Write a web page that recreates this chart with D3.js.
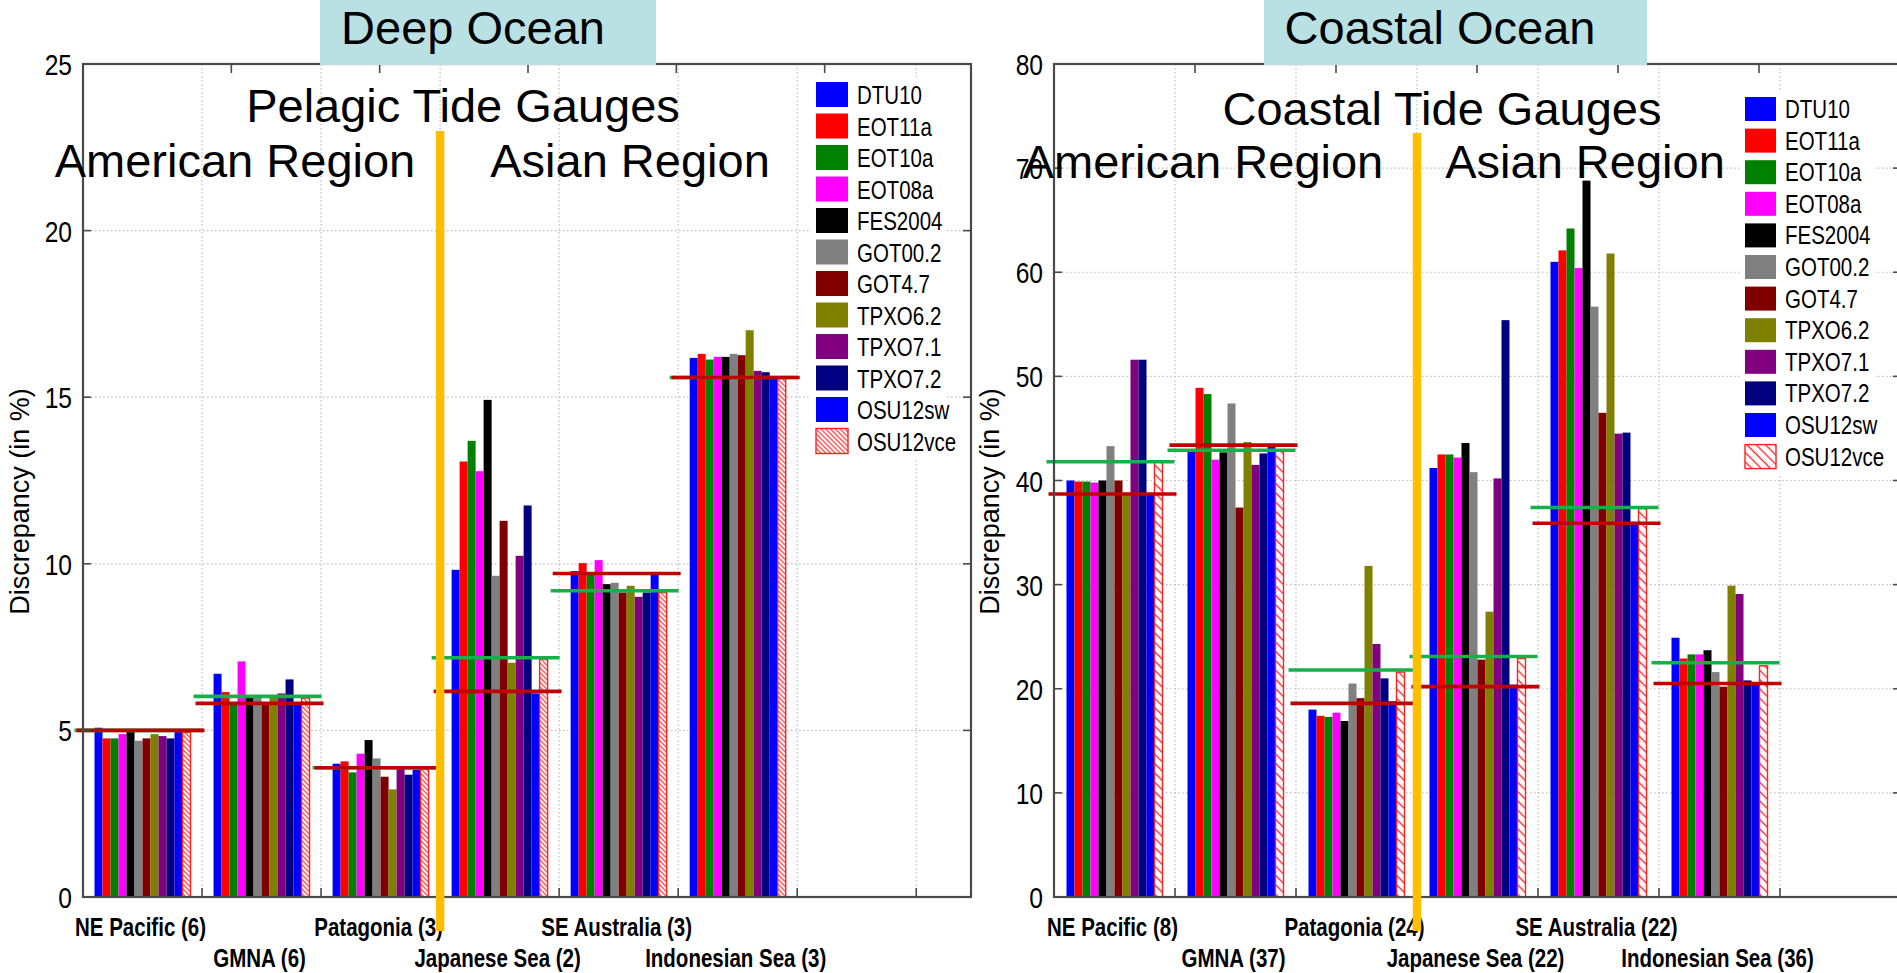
<!DOCTYPE html>
<html>
<head>
<meta charset="utf-8">
<script src="https://cdn.jsdelivr.net/npm/d3@7"></script>
<style>
  html, body { margin: 0; padding: 0; background: #ffffff; }
  svg { display: block; }
</style>
</head>
<body>
<svg id="chart" width="1897" height="973"></svg>
<script>
// ---------------- data ----------------
const models = ["DTU10", "EOT11a", "EOT10a", "EOT08a", "FES2004", "GOT00.2",
                "GOT4.7", "TPXO6.2", "TPXO7.1", "TPXO7.2", "OSU12sw", "OSU12vce"];
const modelColors = ["#0000ff", "#ff0000", "#008000", "#ff00ff", "#000000", "#808080",
                     "#800000", "#808000", "#800080", "#000080", "#0000ff", "hatch"];

// Deep ocean (pelagic tide gauges), discrepancy in %
const deepRegions = ["NE Pacific (6)", "GMNA (6)", "Patagonia (3)",
                     "Japanese Sea (2)", "SE Australia (3)", "Indonesian Sea (3)"];
const deepNEPacific   = [5.08, 4.76, 4.76, 4.89, 4.95, 4.69, 4.76, 4.89, 4.83, 4.76, 4.95, 4.94];
const deepGMNA        = [6.70, 6.15, 5.78, 7.07, 6.06, 6.04, 5.81, 6.04, 6.11, 6.53, 5.78, 5.97];
const deepPatagonia   = [4.00, 4.07, 3.74, 4.30, 4.71, 4.16, 3.61, 3.23, 3.85, 3.67, 3.82, 3.85];
const deepJapaneseSea = [9.82, 13.07, 13.69, 12.78, 14.92, 9.64, 11.29, 7.03, 10.24, 11.75, 6.11, 7.14];
const deepSEAustralia = [9.78, 10.02, 9.75, 10.11, 9.39, 9.43, 9.14, 9.34, 9.01, 9.14, 9.67, 9.14];
const deepIndonesian  = [16.18, 16.30, 16.13, 16.21, 16.21, 16.30, 16.26, 17.01, 15.79, 15.75, 15.58, 15.57];
const deepRedLevel    = [5.00, 5.81, 3.88, 6.17, 9.71, 15.59];
const deepGreenLevel  = [5.00, 6.02, 3.88, 7.18, 9.19, 15.59];

// Coastal ocean (coastal tide gauges), discrepancy in %
const coastRegions = ["NE Pacific (8)", "GMNA (37)", "Patagonia (24)",
                      "Japanese Sea (22)", "SE Australia (22)", "Indonesian Sea (36)"];
const coastNEPacific   = [40.0, 39.9, 39.9, 39.8, 40.0, 43.3, 40.0, 38.8, 51.6, 51.6, 38.8, 41.9];
const coastGMNA        = [42.8, 48.9, 48.3, 42.0, 42.7, 47.4, 37.4, 43.7, 41.5, 42.6, 43.3, 42.8];
const coastPatagonia   = [18.0, 17.4, 17.3, 17.7, 16.9, 20.5, 19.1, 31.8, 24.3, 21.0, 18.8, 21.6];
const coastJapaneseSea = [41.2, 42.5, 42.5, 42.2, 43.6, 40.8, 22.8, 27.4, 40.2, 55.4, 20.4, 22.9];
const coastSEAustralia = [61.0, 62.1, 64.2, 60.4, 68.8, 56.7, 46.5, 61.8, 44.5, 44.6, 35.8, 37.3];
const coastIndonesian  = [24.9, 22.9, 23.3, 23.3, 23.7, 21.6, 20.2, 29.9, 29.1, 20.8, 20.4, 22.2];
const coastRedLevel    = [38.7, 43.4, 18.6, 20.2, 35.9, 20.5];
const coastGreenLevel  = [41.8, 42.9, 21.8, 23.1, 37.4, 22.5];

// ---------------- setup ----------------
const svg = d3.select("#chart");
const SANS = "'Liberation Sans', Arial, Helvetica, sans-serif";

// Condensed face for ticks, legend and category labels; fall back to a
// horizontally squeezed regular face when no narrow face is installed.
const narrow = (function () {
  const t = svg.append("text").attr("font-size", 100).text("FES2004 DTU10");
  t.attr("font-family", "'Liberation Sans'");
  const wRegular = t.node().getComputedTextLength();
  t.attr("font-family", "'Liberation Sans Narrow', 'Liberation Sans'");
  const wNarrow = t.node().getComputedTextLength();
  t.remove();
  return (wNarrow / wRegular < 0.9)
    ? { family: "'Liberation Sans Narrow', 'Liberation Sans', sans-serif", sx: 1 }
    : { family: SANS, sx: 0.82 };
})();

function narrowText(parent, x, y, str, size, anchor, weight) {
  const g = parent.append("g").attr("transform", `translate(${x},${y}) scale(${narrow.sx},1)`);
  return g.append("text")
    .attr("font-family", narrow.family)
    .attr("font-size", size)
    .attr("font-weight", weight || "normal")
    .attr("text-anchor", anchor || "start")
    .attr("fill", "#000")
    .text(str);
}

const defs = svg.append("defs");
function hatchPattern(id, gap, width) {
  const p = defs.append("pattern")
    .attr("id", id)
    .attr("patternUnits", "userSpaceOnUse")
    .attr("width", gap).attr("height", gap)
    .attr("patternTransform", "rotate(-45)");
  p.append("rect").attr("width", gap).attr("height", gap).attr("fill", "#ffffff");
  p.append("line").attr("x1", gap / 2).attr("x2", gap / 2).attr("y1", 0).attr("y2", gap)
    .attr("stroke", "#ff2020").attr("stroke-width", width);
}
hatchPattern("hatchDense", 3.4, 1.1);
hatchPattern("hatchWide", 6.6, 1.3);

const FRAME = "#4a4a4a";
const GRID = "#bdbdbd";

function drawPanel(cfg) {
  const g = svg.append("g");
  const x = d3.scaleLinear().domain([0, cfg.bandsVisible]).range([cfg.left, cfg.right]);
  const y = d3.scaleLinear().domain([0, cfg.yMax]).range([cfg.bottom, cfg.top]);
  const inner = d3.scaleBand().domain(models).range([-48, 48]).padding(0);
  const yTicks = d3.range(0, cfg.yMax + 0.001, cfg.yStep);
  const boundaries = d3.range(1, Math.floor(cfg.bandsVisible) + 1);

  // dotted grid
  g.append("g").selectAll("line.h").data(yTicks.filter(v => v > 0 && v < cfg.yMax)).join("line")
    .attr("x1", cfg.left).attr("x2", cfg.right)
    .attr("y1", d => y(d)).attr("y2", d => y(d))
    .attr("stroke", GRID).attr("stroke-width", 1.2).attr("stroke-dasharray", "1.5,2.5");
  g.append("g").selectAll("line.v").data(boundaries.filter(b => x(b) < cfg.right - 2)).join("line")
    .attr("x1", d => x(d)).attr("x2", d => x(d))
    .attr("y1", cfg.top).attr("y2", cfg.bottom)
    .attr("stroke", GRID).attr("stroke-width", 1.2).attr("stroke-dasharray", "1.5,2.5");

  // grouped bars
  const groups = g.append("g").selectAll("g").data(cfg.values).join("g")
    .attr("transform", (d, i) => `translate(${x(i + 0.5)},0)`);
  groups.selectAll("rect").data(d => d.map((v, j) => ({ v, j }))).join("rect")
    .attr("x", d => inner(models[d.j]))
    .attr("width", inner.bandwidth())
    .attr("y", d => y(d.v))
    .attr("height", d => y(0) - y(d.v))
    .attr("fill", d => modelColors[d.j] === "hatch" ? `url(#${cfg.hatch})` : modelColors[d.j])
    .attr("stroke", d => modelColors[d.j] === "hatch" ? "#ff2020" : "none")
    .attr("stroke-width", 1.4);

  // mean levels per region
  const lines = g.append("g");
  lines.selectAll("line.green").data(cfg.green).join("line")
    .attr("x1", (d, i) => x(i + 0.5) - 68).attr("x2", (d, i) => x(i + 0.5) + 60)
    .attr("y1", d => y(d)).attr("y2", d => y(d))
    .attr("stroke", "#14b14b").attr("stroke-width", 3.6);
  lines.selectAll("line.red").data(cfg.red).join("line")
    .attr("x1", (d, i) => x(i + 0.5) - 66).attr("x2", (d, i) => x(i + 0.5) + 62)
    .attr("y1", d => y(d)).attr("y2", d => y(d))
    .attr("stroke", "#c00000").attr("stroke-width", 3.6);

  // frame and ticks
  g.append("rect").attr("x", cfg.left).attr("y", cfg.top)
    .attr("width", cfg.right - cfg.left).attr("height", cfg.bottom - cfg.top)
    .attr("fill", "none").attr("stroke", FRAME).attr("stroke-width", 2.2);
  g.append("g").selectAll("line").data(boundaries.filter(b => x(b) < cfg.right - 2)).join("line")
    .attr("x1", d => x(d)).attr("x2", d => x(d))
    .attr("y1", cfg.bottom).attr("y2", cfg.bottom - 9)
    .attr("stroke", FRAME).attr("stroke-width", 1.6);
  const topAxis = d3.scaleLinear().domain([0, 6]).range([cfg.left, cfg.left + cfg.topSpan]);
  g.append("g").selectAll("line").data(topAxis.ticks(6).filter(t => t > 0 && t < 6)).join("line")
    .attr("x1", d => topAxis(d)).attr("x2", d => topAxis(d))
    .attr("y1", cfg.top).attr("y2", cfg.top + 9)
    .attr("stroke", FRAME).attr("stroke-width", 1.6);
  const yt = g.append("g");
  yt.selectAll("line.l").data(yTicks).join("line")
    .attr("x1", cfg.left).attr("x2", cfg.left + 8)
    .attr("y1", d => y(d)).attr("y2", d => y(d))
    .attr("stroke", FRAME).attr("stroke-width", 1.6);
  yt.selectAll("line.r").data(yTicks).join("line")
    .attr("x1", cfg.right).attr("x2", cfg.right - 8)
    .attr("y1", d => y(d)).attr("y2", d => y(d))
    .attr("stroke", FRAME).attr("stroke-width", 1.6);

  // tick labels
  yTicks.forEach(v => narrowText(g, cfg.left - 11, y(v) + 11, d3.format("d")(v), 30, "end"));

  // axis title
  g.append("text")
    .attr("transform", `translate(${cfg.yLabelX},${(cfg.top + cfg.bottom) / 2 + 21}) rotate(-90)`)
    .attr("font-family", SANS).attr("font-size", 27).attr("text-anchor", "middle")
    .attr("fill", "#000").text("Discrepancy (in %)");

  // region labels, staggered over two rows
  cfg.regions.forEach((r, i) => {
    narrowText(g, x(i + 0.5) - 2, i % 2 === 0 ? 936 : 967, r, 25, "middle", "bold");
  });

  // legend
  const lg = g.append("g");
  lg.append("rect")
    .attr("x", cfg.legX - 5).attr("y", cfg.legY - 5)
    .attr("width", 135).attr("height", cfg.legStep * 11 + cfg.swH + 10)
    .attr("fill", "#ffffff");
  models.forEach((m, j) => {
    const yy = cfg.legY + j * cfg.legStep;
    const hatched = modelColors[j] === "hatch";
    lg.append("rect").attr("x", cfg.legX).attr("y", yy)
      .attr("width", cfg.swW).attr("height", cfg.swH)
      .attr("fill", hatched ? `url(#${cfg.hatch})` : modelColors[j])
      .attr("stroke", hatched ? "#ff2020" : "none").attr("stroke-width", 1.4);
    narrowText(lg, cfg.legX + cfg.swW + 9, yy + cfg.swH - 3, m, 25, "start");
  });

  // overlay headings and the America / Asia divider
  const ov = g.append("g");
  ov.append("text").attr("x", cfg.headX).attr("y", cfg.headY)
    .attr("font-family", SANS).attr("font-size", 47).attr("text-anchor", "middle")
    .attr("fill", "#000").text(cfg.heading);
  ov.append("text").attr("x", cfg.amX).attr("y", cfg.regY)
    .attr("font-family", SANS).attr("font-size", 47).attr("text-anchor", "middle")
    .attr("fill", "#000").text("American Region");
  ov.append("text").attr("x", cfg.asX).attr("y", cfg.regY)
    .attr("font-family", SANS).attr("font-size", 47).attr("text-anchor", "middle")
    .attr("fill", "#000").text("Asian Region");
  ov.append("line")
    .attr("x1", x(3)).attr("x2", x(3))
    .attr("y1", cfg.dividerTop).attr("y2", 931)
    .attr("stroke", "#ffbf00").attr("stroke-width", 8.5);

  // title box
  svg.append("rect").attr("x", cfg.boxX).attr("y", 0)
    .attr("width", cfg.boxW).attr("height", 65).attr("fill", "#b9e0e3");
  svg.append("text").attr("x", cfg.titleX).attr("y", 44)
    .attr("font-family", SANS).attr("font-size", 47).attr("text-anchor", "middle")
    .attr("fill", "#000").text(cfg.title);
}

drawPanel({
  title: "Deep Ocean", boxX: 320, boxW: 336, titleX: 473,
  heading: "Pelagic Tide Gauges", headX: 463, headY: 122,
  amX: 235, asX: 630, regY: 177, dividerTop: 131,
  left: 83, right: 971, bandsVisible: 7.46, topSpan: 890,
  top: 64, bottom: 897, yMax: 25, yStep: 5, yLabelX: 29,
  regions: deepRegions,
  values: [deepNEPacific, deepGMNA, deepPatagonia, deepJapaneseSea, deepSEAustralia, deepIndonesian],
  red: deepRedLevel, green: deepGreenLevel, hatch: "hatchDense",
  legX: 816, legY: 82, legStep: 31.5, swW: 32, swH: 25
});

drawPanel({
  title: "Coastal Ocean", boxX: 1264, boxW: 383, titleX: 1440,
  heading: "Coastal Tide Gauges", headX: 1442, headY: 125,
  amX: 1203, asX: 1585, regY: 178, dividerTop: 133,
  left: 1054, right: 1901, bandsVisible: 7, topSpan: 846,
  top: 64, bottom: 897, yMax: 80, yStep: 10, yLabelX: 999,
  regions: coastRegions,
  values: [coastNEPacific, coastGMNA, coastPatagonia, coastJapaneseSea, coastSEAustralia, coastIndonesian],
  red: coastRedLevel, green: coastGreenLevel, hatch: "hatchWide",
  legX: 1745, legY: 97, legStep: 31.6, swW: 31, swH: 24
});
</script>
</body>
</html>
